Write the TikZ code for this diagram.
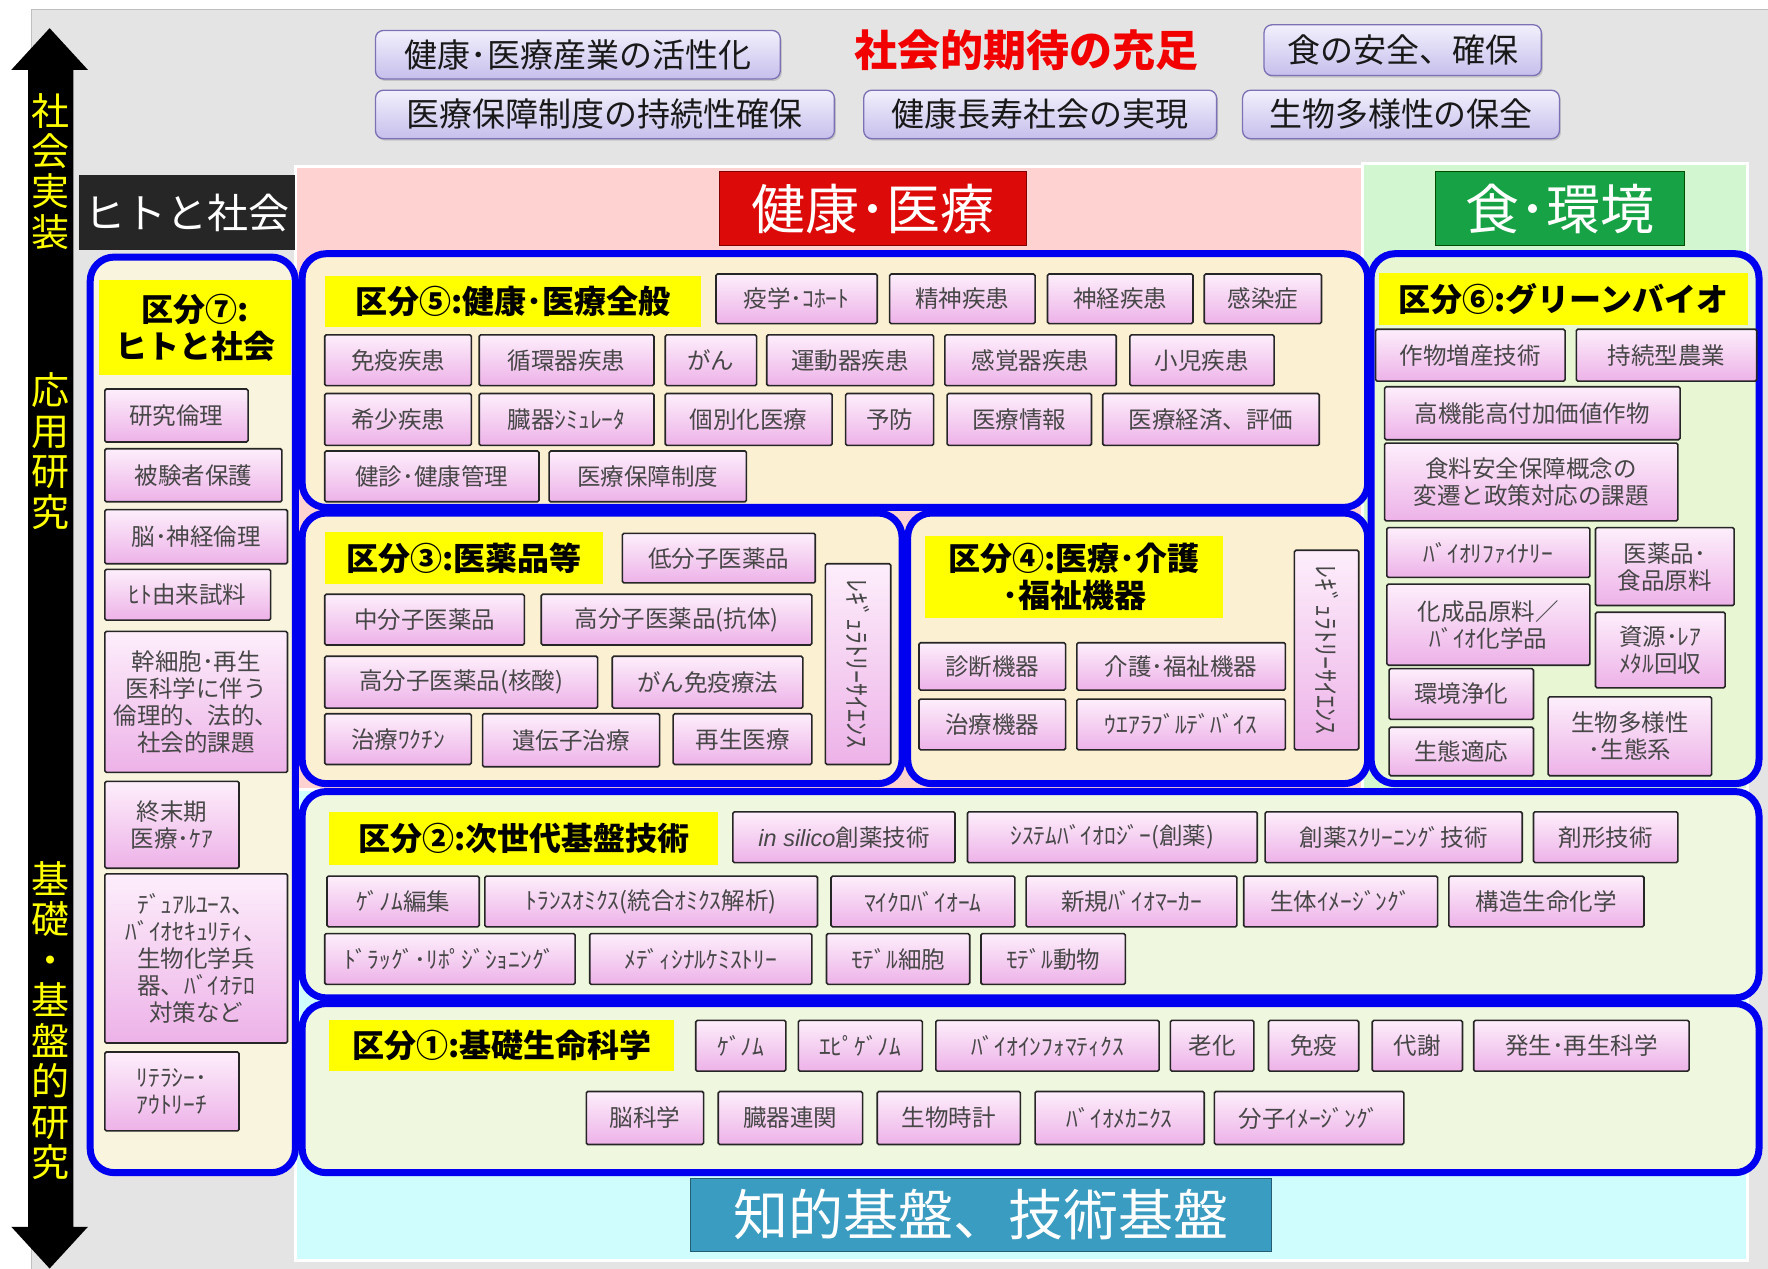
\documentclass[tikz,border=0pt]{standalone}
\usepackage{fontspec}
\setmainfont{Noto Sans CJK JP}
\newfontfamily\lat{Liberation Sans}
\usetikzlibrary{shadows}
\definecolor{bggray}{HTML}{E4E4E4}
\definecolor{pinkband}{HTML}{FFD2D2}
\definecolor{greenband}{HTML}{D2F6CF}
\definecolor{cyanband}{HTML}{CFFCFC}
\definecolor{cream}{HTML}{FCF0D3}
\definecolor{cream7}{HTML}{F8F4DD}
\definecolor{green6}{HTML}{E8F6D4}
\definecolor{green12}{HTML}{EFF7DE}
\definecolor{bframe}{HTML}{0000F0}
\definecolor{ylab}{HTML}{FFFF00}
\definecolor{pinktop}{HTML}{FDEEFB}
\definecolor{pinkbot}{HTML}{EDB2E8}
\definecolor{lavtop}{HTML}{F2F0FC}
\definecolor{lavbot}{HTML}{C6BFEC}
\definecolor{lavdraw}{HTML}{7D70B4}
\definecolor{hdred}{HTML}{DD0A0A}
\definecolor{hdgreen}{HTML}{17A246}
\definecolor{hdteal}{HTML}{3A9CC0}
\newcommand\bx[7][pinkbox]{\node[#1, minimum width={(#5-#3)*1.1276pt}, minimum height={(#6-#4)*1.1276pt}] (#2) at ({(#3+#5)/2},{(#4+#6)/2}) {#7};}
\begin{document}
\begin{tikzpicture}[x=1.1276pt,y=-1.1276pt,
  pinkbox/.style={draw=black!85, line width=1.6pt, top color=pinktop, bottom color=pinkbot, rounded corners=1.5pt, inner sep=0pt, align=center, font=\fontsize{23.5}{27}\selectfont, text=black!72},
  lavbox/.style={draw=lavdraw, line width=1.3pt, top color=lavtop, bottom color=lavbot, rounded corners=8pt, inner sep=0pt, font=\fontsize{33}{36}\selectfont, text=black!90, drop shadow={shadow xshift=1.5pt, shadow yshift=-2pt, fill=black!35}},
  ylabel/.style={fill=ylab, inner sep=0pt, align=center, font=\fontsize{32}{37}\selectfont\bfseries, text=black},
  bluef/.style={draw=bframe, line width=7pt, rounded corners=24pt},
  header/.style={inner sep=0pt, text=white, font=\fontsize{54}{58}\selectfont},
  armtext/.style={text=ylab, align=center, font=\fontsize{38}{40.5}\selectfont},
  vtext/.style={rotate=-90, font=\fontsize{26}{28}\selectfont, text=black!72}
]
\useasboundingbox (0,0) rectangle (1568,1125);
% background
\fill[white] (0,0) rectangle (1568,1125);
\draw[fill=bggray, draw=black!25, line width=1pt] (28,8) rectangle (1570,1127);
\fill[pinkband, draw=white, line width=3pt] (262,148) rectangle (1208,700);
\fill[greenband, draw=white, line width=3pt] (1208,145) rectangle (1550,700);
\fill[cyanband, draw=white, line width=3pt] (262,700) rectangle (1550,1118);
% left arrow
\fill[black] (44,25) -- (78,62) -- (65,62) -- (65,1088) -- (78,1088) -- (44,1125) -- (10,1088) -- (25,1088) -- (25,62) -- (10,62) -- cycle;
\node[armtext] (a1) at (45,152) {社\\会\\実\\装};
\node[armtext] (a2) at (45,400) {応\\用\\研\\究};
\node[armtext] (a3) at (45,905) {基\\礎\\・\\基\\盤\\的\\研\\究};
% top boxes
\bx[lavbox]{t1}{333}{27}{692}{70}{健康･医療産業の活性化}
\bx[lavbox]{t2}{333}{80}{740}{123}{医療保障制度の持続性確保}
\bx[lavbox]{t3}{766}{80}{1079}{123}{健康長寿社会の実現}
\bx[lavbox]{t4}{1121}{22}{1367}{67}{食の安全、確保}
\bx[lavbox]{t5}{1102}{80}{1383}{123}{生物多様性の保全}
\node[text=red!95!black, font=\fontsize{43}{46}\selectfont\bfseries] (title) at (910,45) {社会的期待の充足};
% headers
\bx[header, fill=black!85, font=\fontsize{41}{44}\selectfont]{h7}{70}{155}{262}{222}{ヒトと社会}
\bx[header, fill=hdred, draw=red!50!black, line width=1pt]{hk}{638}{152}{910}{218}{健康･医療}
\bx[header, fill=hdgreen, draw=green!30!black, line width=1pt]{hs}{1273}{152}{1494}{218}{食･環境}
\bx[header, fill=hdteal, draw=hdteal!60!black, line width=1pt, font=\fontsize{55}{58}\selectfont]{hc}{612}{1045}{1128}{1110}{知的基盤、技術基盤}
% blue frames
\draw[bluef, fill=cream7] (80,228) rectangle (262,1040);
\draw[bluef, fill=cream] (268,225) rectangle (1213,450);
\draw[bluef, fill=cream] (268,455) rectangle (800,695);
\draw[bluef, fill=cream] (805,455) rectangle (1213,695);
\draw[bluef, fill=green6] (1216,225) rectangle (1560,695);
\draw[bluef, fill=green12] (268,702) rectangle (1560,885);
\draw[bluef, fill=green12] (268,890) rectangle (1560,1040);
% yellow labels
\bx[ylabel]{y7}{88}{248}{258}{333}{区分⑦:\\ヒトと社会}
\bx[ylabel]{y5}{288}{245}{622}{290}{区分⑤:健康･医療全般}
\bx[ylabel]{y6}{1223}{242}{1550}{288}{区分⑥:グリーンバイオ}
\bx[ylabel]{y3}{288}{472}{535}{518}{区分③:医薬品等}
\bx[ylabel]{y4}{820}{475}{1085}{548}{区分④:医療･介護\\･福祉機器}
\bx[ylabel]{y2}{292}{720}{637}{767}{区分②:次世代基盤技術}
\bx[ylabel]{y1}{292}{905}{598}{950}{区分①:基礎生命科学}
% box 7
\bx{k1}{93}{345}{220}{392}{研究倫理}
\bx{k2}{93}{398}{250}{445}{被験者保護}
\bx{k3}{93}{452}{255}{500}{脳･神経倫理}
\bx{k4}{93}{505}{240}{550}{ﾋﾄ由来試料}
\bx{k5}{93}{560}{255}{685}{幹細胞･再生\\医科学に伴う\\倫理的、法的、\\社会的課題}
\bx{k6}{93}{693}{212}{770}{終末期\\医療･ｹｱ}
\bx{k7}{93}{775}{255}{925}{ﾃﾞｭｱﾙﾕｰｽ、\\ﾊﾞｲｵｾｷｭﾘﾃｨ、\\生物化学兵\\器、ﾊﾞｲｵﾃﾛ\\対策など}
\bx{k8}{93}{933}{212}{1003}{ﾘﾃﾗｼｰ･\\ｱｳﾄﾘｰﾁ}
% box 5
\bx{e1}{635}{243}{778}{287}{疫学･ｺﾎｰﾄ}
\bx{e2}{789}{243}{918}{287}{精神疾患}
\bx{e3}{929}{243}{1058}{287}{神経疾患}
\bx{e4}{1068}{243}{1172}{287}{感染症}
\bx{e5}{288}{297}{418}{342}{免疫疾患}
\bx{e6}{425}{297}{580}{342}{循環器疾患}
\bx{e7}{590}{297}{671}{342}{がん}
\bx{e8}{680}{297}{828}{342}{運動器疾患}
\bx{e9}{838}{297}{990}{342}{感覚器疾患}
\bx{e10}{1002}{297}{1130}{342}{小児疾患}
\bx{e11}{288}{349}{418}{395}{希少疾患}
\bx{e12}{425}{349}{580}{395}{臓器ｼﾐｭﾚｰﾀ}
\bx{e13}{590}{349}{738}{395}{個別化医療}
\bx{e14}{750}{349}{828}{395}{予防}
\bx{e15}{840}{349}{968}{395}{医療情報}
\bx{e16}{978}{349}{1170}{395}{医療経済、評価}
\bx{e17}{288}{400}{478}{445}{健診･健康管理}
\bx{e18}{487}{400}{662}{445}{医療保障制度}
% box 3
\bx{m1}{552}{473}{723}{517}{低分子医薬品}
\bx{m2}{288}{527}{465}{572}{中分子医薬品}
\bx{m3}{480}{527}{720}{572}{高分子医薬品(抗体)}
\bx{m4}{288}{582}{530}{628}{高分子医薬品(核酸)}
\bx{m5}{543}{582}{712}{628}{がん免疫療法}
\bx{m6}{288}{633}{418}{678}{治療ﾜｸﾁﾝ}
\bx{m7}{428}{633}{585}{680}{遺伝子治療}
\bx{m8}{597}{633}{720}{678}{再生医療}
\bx{m9}{732}{500}{790}{678}{}
\node[vtext] (m9t) at (m9) {ﾚｷﾞｭﾗﾄﾘｰｻｲｴﾝｽ};
% box 4
\bx{d1}{1148}{488}{1205}{665}{}
\node[vtext] (d1t) at (d1) {ﾚｷﾞｭﾗﾄﾘｰｻｲｴﾝｽ};
\bx{d2}{815}{570}{945}{612}{診断機器}
\bx{d3}{955}{570}{1140}{612}{介護･福祉機器}
\bx{d4}{815}{620}{945}{665}{治療機器}
\bx{d5}{955}{620}{1140}{665}{ｳｴｱﾗﾌﾞﾙﾃﾞﾊﾞｲｽ}
% box 6
\bx{g1}{1220}{292}{1388}{338}{作物増産技術}
\bx{g2}{1398}{292}{1558}{338}{持続型農業}
\bx{g3}{1228}{343}{1490}{390}{高機能高付加価値作物}
\bx{g4}{1228}{393}{1488}{462}{食料安全保障概念の\\変遷と政策対応の課題}
\bx{g5}{1230}{468}{1410}{512}{ﾊﾞｲｵﾘﾌｧｲﾅﾘｰ}
\bx{g6}{1415}{468}{1538}{537}{医薬品･\\食品原料}
\bx{g7}{1230}{518}{1410}{590}{化成品原料／\\ﾊﾞｲｵ化学品}
\bx{g8}{1415}{543}{1530}{610}{資源･ﾚｱ\\ﾒﾀﾙ回収}
\bx{g9}{1232}{593}{1360}{638}{環境浄化}
\bx{g10}{1373}{618}{1518}{688}{生物多様性\\･生態系}
\bx{g11}{1232}{645}{1360}{688}{生態適応}
% box 2
\bx{b1}{650}{720}{847}{765}{{\lat\itshape in silico}創薬技術}
\bx{b2}{858}{720}{1115}{765}{ｼｽﾃﾑﾊﾞｲｵﾛｼﾞｰ(創薬)}
\bx{b3}{1122}{720}{1350}{765}{創薬ｽｸﾘｰﾆﾝｸﾞ技術}
\bx{b4}{1360}{720}{1488}{765}{剤形技術}
\bx{b5}{290}{777}{425}{822}{ｹﾞﾉﾑ編集}
\bx{b6}{430}{777}{725}{822}{ﾄﾗﾝｽｵﾐｸｽ(統合ｵﾐｸｽ解析)}
\bx{b7}{737}{777}{900}{822}{ﾏｲｸﾛﾊﾞｲｵｰﾑ}
\bx{b8}{910}{777}{1097}{822}{新規ﾊﾞｲｵﾏｰｶｰ}
\bx{b9}{1103}{777}{1275}{822}{生体ｲﾒｰｼﾞﾝｸﾞ}
\bx{b10}{1285}{777}{1458}{822}{構造生命化学}
\bx{b11}{288}{828}{510}{873}{ﾄﾞﾗｯｸﾞ･ﾘﾎﾟｼﾞｼｮﾆﾝｸﾞ}
\bx{b12}{523}{828}{720}{873}{ﾒﾃﾞｨｼﾅﾙｹﾐｽﾄﾘｰ}
\bx{b13}{733}{828}{860}{873}{ﾓﾃﾞﾙ細胞}
\bx{b14}{870}{828}{998}{873}{ﾓﾃﾞﾙ動物}
% box 1
\bx{c1}{617}{905}{697}{950}{ｹﾞﾉﾑ}
\bx{c2}{708}{905}{818}{950}{ｴﾋﾟｹﾞﾉﾑ}
\bx{c3}{830}{905}{1028}{950}{ﾊﾞｲｵｲﾝﾌｫﾏﾃｨｸｽ}
\bx{c4}{1038}{905}{1112}{950}{老化}
\bx{c5}{1125}{905}{1205}{950}{免疫}
\bx{c6}{1217}{905}{1297}{950}{代謝}
\bx{c7}{1307}{905}{1498}{950}{発生･再生科学}
\bx{c8}{520}{968}{624}{1015}{脳科学}
\bx{c9}{637}{968}{765}{1015}{臓器連関}
\bx{c10}{778}{968}{905}{1015}{生物時計}
\bx{c11}{918}{968}{1068}{1015}{ﾊﾞｲｵﾒｶﾆｸｽ}
\bx{c12}{1077}{968}{1245}{1015}{分子ｲﾒｰｼﾞﾝｸﾞ}
\end{tikzpicture}
\end{document}
